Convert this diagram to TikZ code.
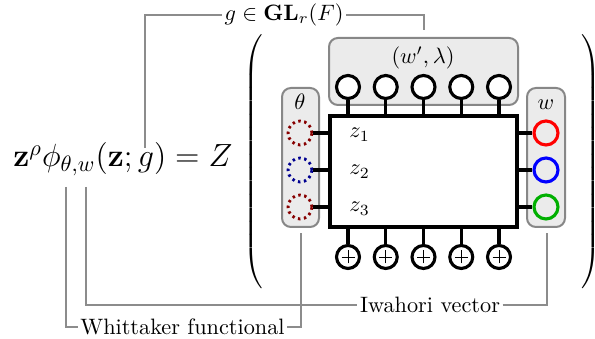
\documentclass[tikz,border=0pt]{standalone}
\usepackage{amsmath}
\usetikzlibrary{positioning,calc}
\newdimen\pix \pix=0.449pt
\definecolor{softgray}{RGB}{235,235,235}
\definecolor{framegray}{RGB}{135,135,135}
\definecolor{leadgray}{RGB}{140,140,140}
\definecolor{darkred}{RGB}{135,0,0}
\definecolor{darkblue}{RGB}{0,0,145}
\definecolor{iwagreen}{RGB}{0,175,0}

\begin{document}
\begin{tikzpicture}[x=\pix, y=\pix,
    graybox/.style={draw=framegray, fill=softgray, line width=0.9pt, rounded corners=4pt, inner sep=0pt},
    bead/.style={draw, circle, line width=1.4pt, minimum size=23*\pix, inner sep=0pt},
    leg/.style={line width=1.4pt},
    leader/.style={draw=leadgray, line width=0.7pt},
    tag/.style={inner sep=1pt}]
    \useasboundingbox (0,0) rectangle (595,339);

    % gray frames
    \node[graybox, minimum width=189*\pix, minimum height=67*\pix] (params) at (423.5,267.5) {};
    \node[graybox, minimum width=37*\pix, minimum height=139*\pix] (thetabox) at (300.5,181.5) {};
    \node[graybox, minimum width=38*\pix, minimum height=139*\pix] (wbox) at (546,181.5) {};
    \node[draw, line width=1.4pt, minimum width=187*\pix, minimum height=111*\pix, inner sep=0pt] (grid) at (423.5,167.5) {};

    % top and bottom beads
    \foreach \i in {0,...,4} {
      \node[bead, fill=white] (top\i) at ({348+37.75*\i},252) {};
      \draw[leg] (top\i.south) -- (top\i.south |- grid.north);
      \node[bead] (bot\i) at ({348+37.75*\i},82) {};
      \draw[leg] (bot\i.north) -- (bot\i.north |- grid.south);
      \draw[thin] ([xshift=-6.5*\pix]bot\i.center) -- ([xshift=6.5*\pix]bot\i.center);
      \draw[thin] ([yshift=-6.5*\pix]bot\i.center) -- ([yshift=6.5*\pix]bot\i.center);
    }

    % side beads
    \foreach \y/\c/\k [count=\n] in {206/darkred/red, 169/darkblue/blue, 132/darkred/iwagreen} {
      \node[bead, draw=\c, line width=1.3pt, dash pattern=on 1.1pt off 1.6pt, minimum size=24*\pix] (th\n) at (300,\y) {};
      \draw[leg] (th\n.east) -- (th\n.east -| grid.west);
      \node[bead, draw=\k, minimum size=24*\pix] (w\n) at (546,\y) {};
      \draw[leg] (w\n.west) -- (w\n.west -| grid.east);
      \node[anchor=base west, inner sep=0pt] (z\n) at (349,\y-5) {$z_\n$};
    }

    \node[anchor=base] (thetalabel) at (300,229) {$\theta$};
    \node[anchor=base] (wlabel) at (546,229) {$w$};
    \node[anchor=base] (paramlabel) at (423,275) {$(w',\lambda)$};

    % formula and brackets
    \node[anchor=base west, font=\Large, inner sep=0pt] (formula) at (13,172) {$\mathbf{z}^\rho\phi_{\theta,w}(\mathbf{z};g) = Z$};
    \node[inner sep=0pt] (lpar) at (255,176) {$\left(\vrule height 56pt depth 56pt width 0pt\right.$};
    \node[inner sep=0pt] (rpar) at (590,176) {$\left.\vrule height 56pt depth 56pt width 0pt\right)$};

    % leaders
    \coordinate (gpt) at (145,191);
    \coordinate (gend) at (424,309);
    \node[tag, anchor=west] (glabel) at (222,324) {$g\in\mathbf{GL}_r(F)$};
    \draw[leader] (gpt) |- (glabel.west);
    \draw[leader] (glabel.east) -| (gend);

    \coordinate (thpt) at (66,152);
    \coordinate (thend) at (301,106);
    \node[tag] (whit) at (182.5,12) {Whittaker functional};
    \draw[leader] (thpt) |- (whit.west);
    \draw[leader] (whit.east) -| (thend);

    \coordinate (wpt) at (86,152);
    \coordinate (wend) at (547,106);
    \node[tag] (iwa) at (430,34) {Iwahori vector};
    \draw[leader] (wpt) |- (iwa.west);
    \draw[leader] (iwa.east) -| (wend);
  \end{tikzpicture}
\end{document}
